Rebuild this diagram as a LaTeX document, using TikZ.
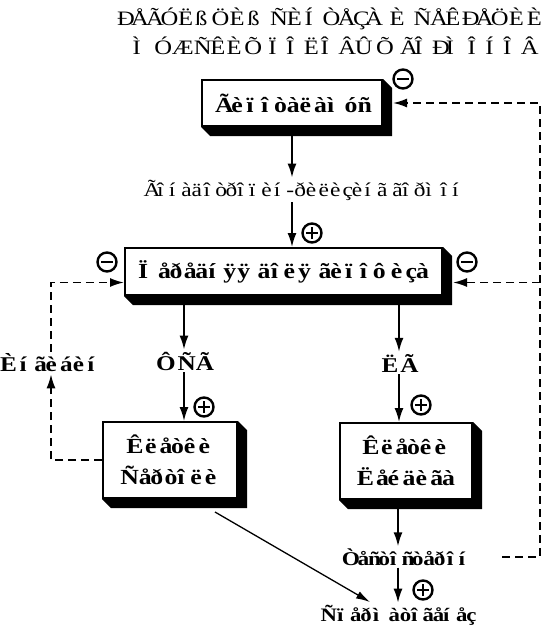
\documentclass[tikz,border=0pt]{standalone}
\usepackage{fontspec}
\setmainfont{Liberation Serif}[FakeStretch=1.2]
\usetikzlibrary{arrows.meta}
\ExplSyntaxOn
\box_new:N \l_mj_box
\cs_new_protected:Npn \mj_text:nn #1 #2
 {
  \str_map_inline:nn {#2}
   {
    \str_if_eq:nnTF {##1} {~}
     { \c_space_tl }
     {
      \int_compare:nNnTF { `##1 } > { "BF }
       {
        \hbox_set:Nn \l_mj_box { \char \int_eval:n { `##1 + "350 } }
        \hbox_to_wd:nn { \dim_eval:n { #1 \box_wd:N \l_mj_box } } { ##1 \hfil }
       }
       { ##1 }
     }
   }
 }
\newcommand\mjtext[2][1]{\mj_text:nn{#1}{#2}}
\ExplSyntaxOff
\newcommand\boxshadow[1]{\fill (#1.north east) -- ++(9,9) -- ([shift={(9,9)}]#1.south east) -- ([shift={(9,9)}]#1.south west) -- (#1.south west) -- (#1.south east) -- cycle;}
\tikzset{
  box3d/.style={draw,fill=white,line width=2pt,inner sep=0pt,align=center,
    font=\bfseries\fontsize{21.5}{31}\selectfont},
  lbl/.style={inner sep=2pt,font=\bfseries\fontsize{21}{25}\selectfont},
  plainlbl/.style={inner sep=2pt,font=\fontsize{20.5}{24}\selectfont},
  arr/.style={line width=1.8pt,-{Latex[length=14pt,width=9pt]}},
  darr/.style={line width=1.8pt,dash pattern=on 8pt off 5pt,-{Latex[length=14pt,width=9pt]}},
  thinarr/.style={line width=1.3pt,-{Latex[length=14pt,width=8pt]}},
  sgn/.style={circle,draw,line width=2.4pt,minimum size=19pt,inner sep=0pt},
  minussign/.style={sgn,path picture={\draw[line width=2.6pt] ([xshift=-6pt]path picture bounding box.center) -- ([xshift=6pt]path picture bounding box.center);}},
  plussign/.style={sgn,path picture={\draw[line width=2.6pt] ([xshift=-6pt]path picture bounding box.center) -- ([xshift=6pt]path picture bounding box.center) ([yshift=-6pt]path picture bounding box.center) -- ([yshift=6pt]path picture bounding box.center);}}
}
\begin{document}
\begin{tikzpicture}[x=1pt,y=-1pt]
\useasboundingbox (0,0) rectangle (547,637);
% titles
\node[plainlbl] (t1) at (331,19) {\mjtext[1.01]{ÐÅÃÓËßÖÈß ÑÈÍÒÅÇÀ È ÑÅÊÐÅÖÈÈ}};
\node[plainlbl] (t2) at (335,46) {\mjtext{ÌÓÆÑÊÈÕ ÏÎËÎÂÛÕ ÃÎÐÌÎÍÎÂ}};
% boxes
\node[box3d,minimum width=180pt,minimum height=46pt] (b1) at (292,103) {\mjtext{Ãèïîòàëàìóñ}};
\node[box3d,minimum width=317pt,minimum height=47pt] (b2) at (283.5,271.5) {\mjtext{Ïåðåäíÿÿ äîëÿ ãèïîôèçà}};
\node[box3d,minimum width=134pt,minimum height=76pt] (b3) at (170,460) {\mjtext{Êëåòêè}\\\mjtext{Ñåðòîëè}};
\node[box3d,minimum width=132pt,minimum height=76pt] (b4) at (406,461) {\mjtext{Êëåòêè}\\\mjtext{Ëåéäèãà}};
\boxshadow{b1}
\boxshadow{b2}
\boxshadow{b3}
\boxshadow{b4}
% labels
\node[plainlbl,font=\fontsize{19.5}{24}\selectfont] (g) at (304,190) {\mjtext{Ãîíàäîòðîïèí-ðèëèçèíã ãîðìîí}};
\node[lbl] (inh) at (51,363) {\mjtext{Èíãèáèí}};
\node[lbl] (f) at (184,361) {\mjtext{ÔÑÃ}};
\node[lbl] (l) at (399,363) {\mjtext{ËÃ}};
\node[lbl,font=\bfseries\fontsize{19.5}{24}\selectfont] (t) at (407,557) {\mjtext{Òåñòîñòåðîí}};
\node[lbl,font=\bfseries\fontsize{19}{24}\selectfont] (s) at (398,615) {\mjtext{Ñïåðìàòîãåíåç}};
% signs
\node[minussign] (m1) at (403,79) {};
\node[plussign] (p1) at (312,233) {};
\node[minussign] (m2) at (107,262) {};
\node[minussign] (m3) at (467,262) {};
\node[plussign] (p2) at (204,407) {};
\node[plussign] (p3) at (421,405) {};
\node[plussign] (p4) at (423,590) {};
% helper coordinates
\coordinate (rr) at (540,0);
\coordinate (d1) at (215,512);
\coordinate (d2) at (370,602);
% solid arrows
\draw[arr] (b1.south) -- (b1.south |- g.north);
\draw[arr] (b1.south |- g.south) -- (b1.south |- b2.north);
\draw[arr] (f.north |- b2.south) -- (f.north);
\draw[arr] (f.south) -- (f.south |- b3.north);
\draw[arr] (l.north |- b2.south) -- (l.north);
\draw[arr] (l.south) -- (l.south |- b4.north);
\draw[arr] (s.north |- b4.south) -- (s.north |- t.north);
\draw[arr] (s.north |- t.south) -- (s.north);
\draw[thinarr] (d1) -- (d2);
% dashed feedback
\draw[darr,shorten <=28pt,shorten >=10pt] (t.east) -- (t.east -| rr) -- (b1.east -| rr) -- (b1.east);
\draw[darr,shorten >=10pt] ([yshift=-11pt]b2.east -| rr) -- ([yshift=-11pt]b2.east);
\draw[darr] (b3.west) -- (b3.west -| inh.south) -- (inh.south);
\draw[darr] (inh.north) -- ([yshift=-11pt]b2.west -| inh.north) -- ([yshift=-11pt]b2.west);
\end{tikzpicture}
\end{document}
